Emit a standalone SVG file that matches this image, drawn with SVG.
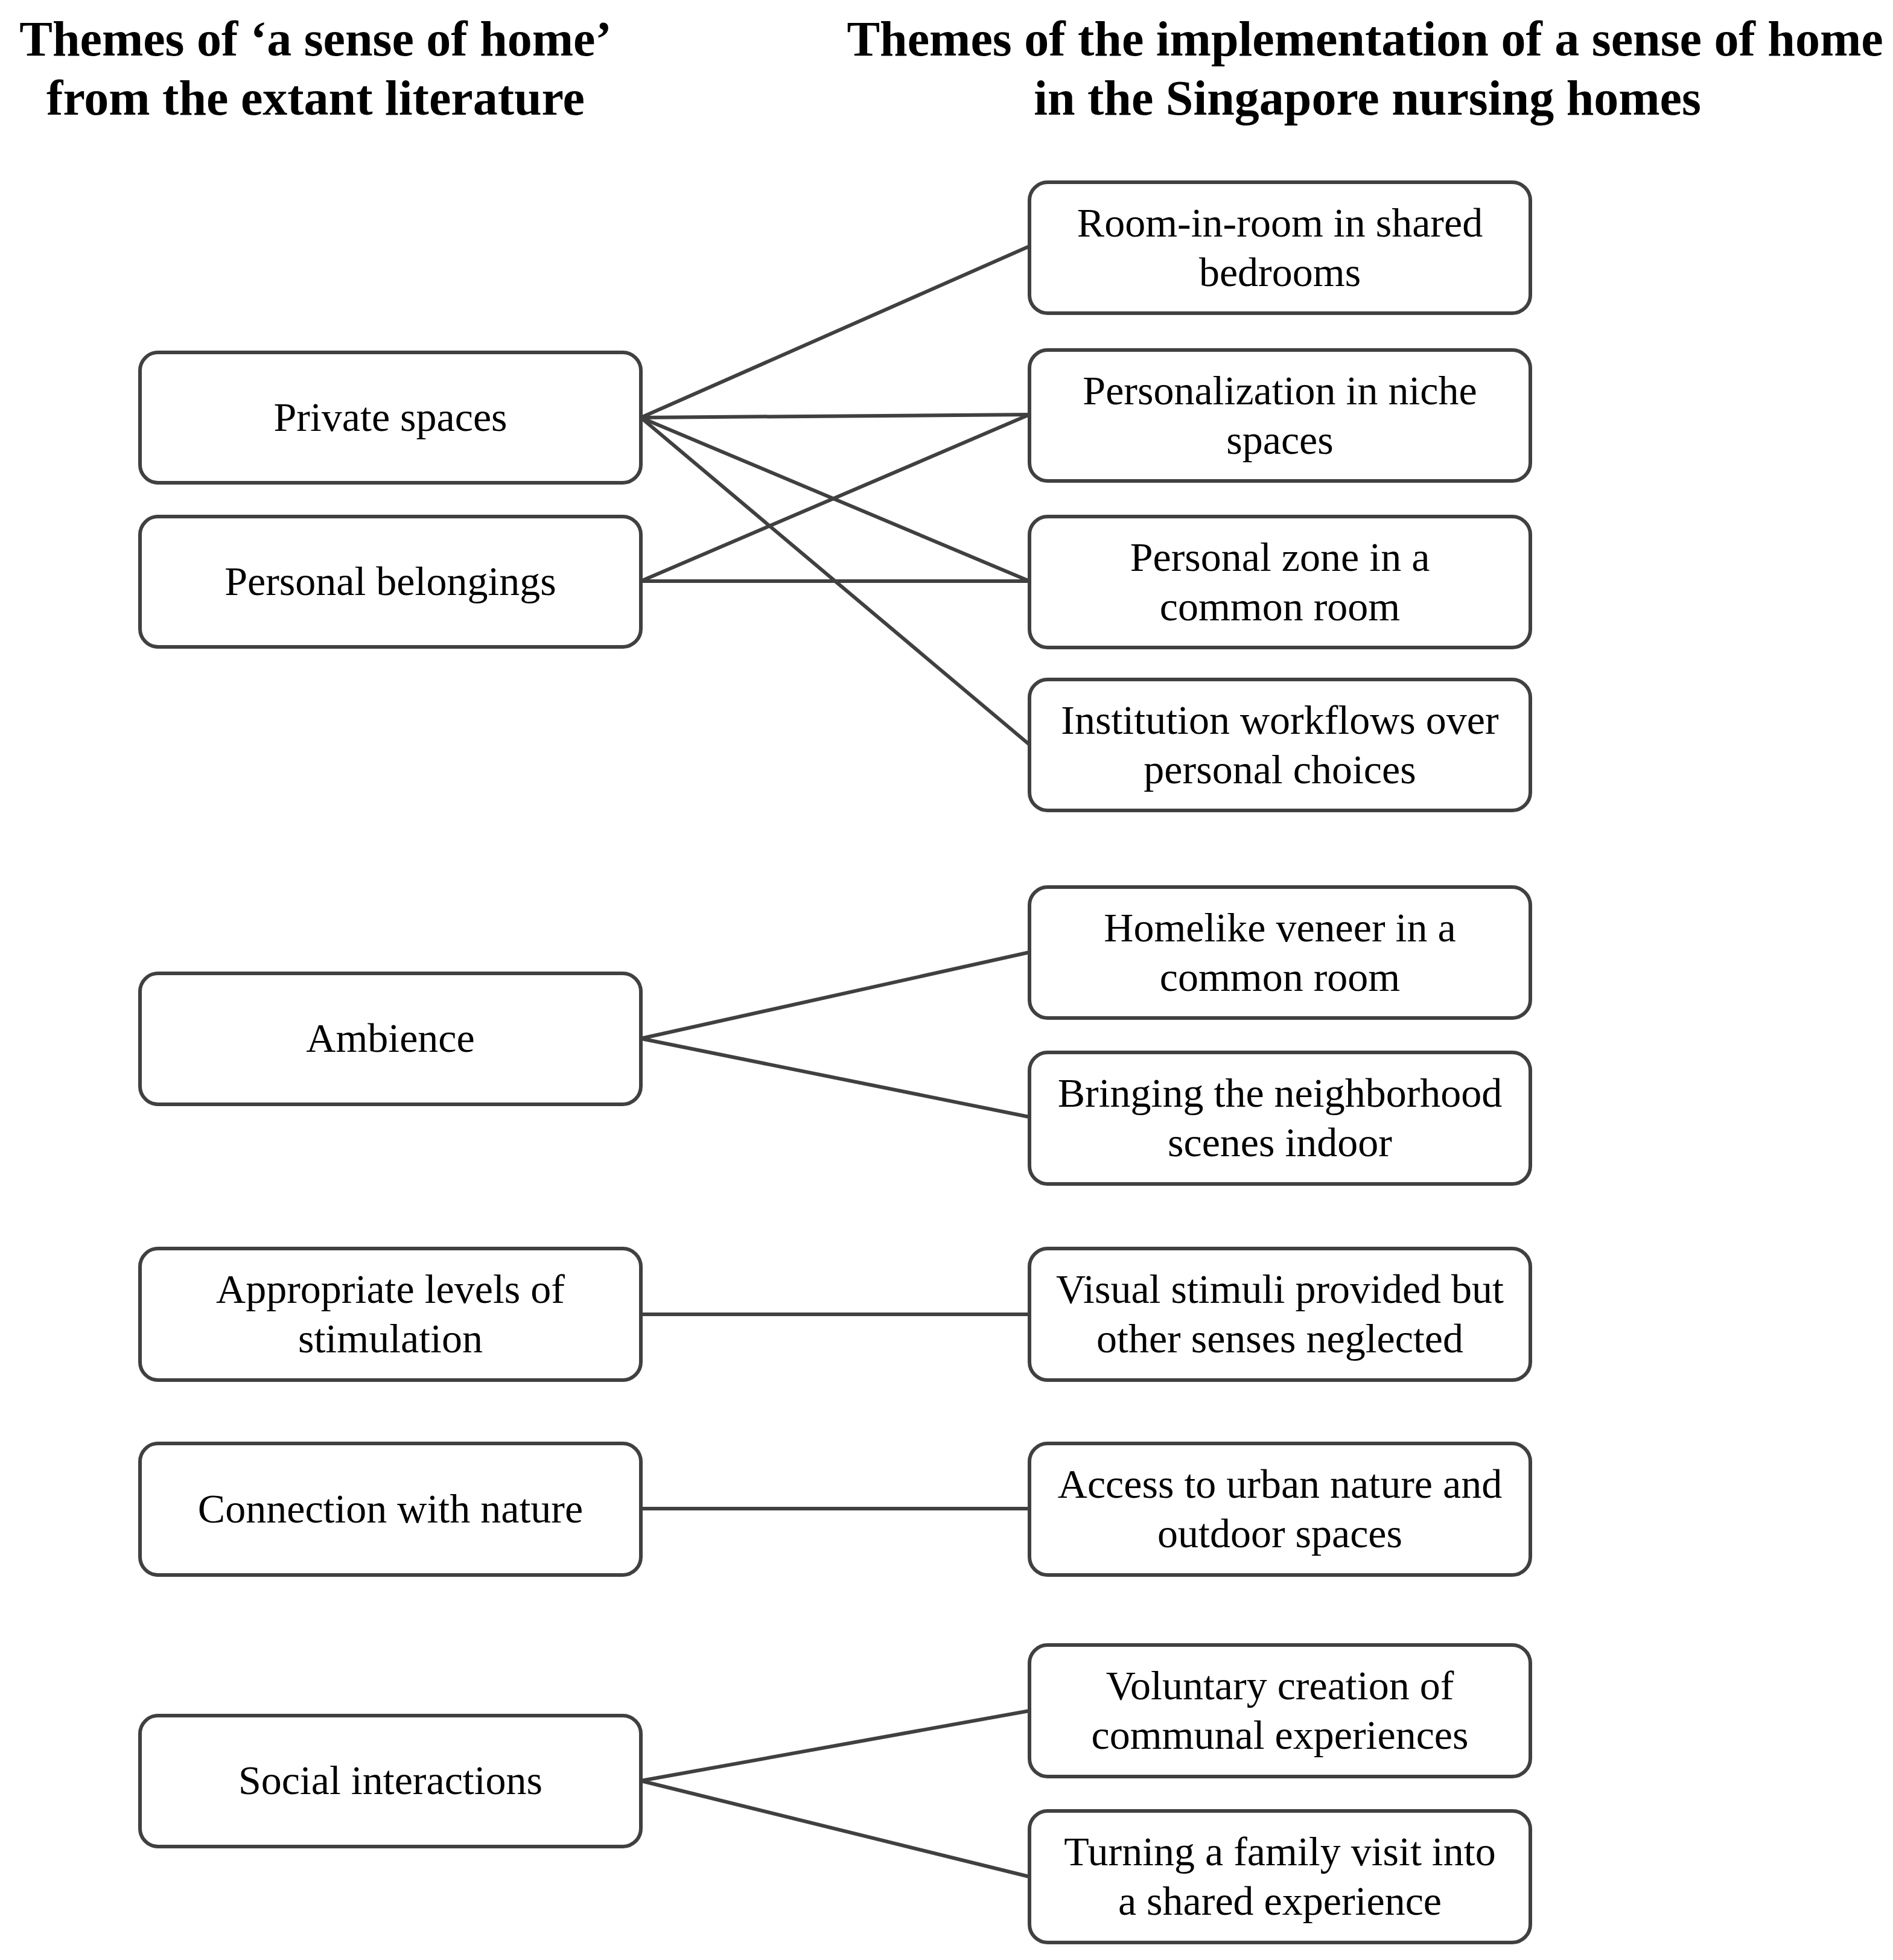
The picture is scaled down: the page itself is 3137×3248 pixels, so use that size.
<svg xmlns="http://www.w3.org/2000/svg" width="3137" height="3248" viewBox="0 0 3137 3248">
<style>
.box{fill:#ffffff;stroke:#404040;stroke-width:6}
.t{font-family:"Liberation Serif","Times New Roman",serif;font-size:68px;fill:#000;text-anchor:middle}
.h{font-family:"Liberation Serif","Times New Roman",serif;font-size:82px;font-weight:bold;fill:#000;text-anchor:middle}
.c{stroke:#404040;stroke-width:6;fill:none}
</style>
<rect width="3137" height="3248" fill="#ffffff"/>
<g id="titles">
<text class="h" x="523" y="92">Themes of ‘a sense of home’</text>
<text class="h" x="523" y="190">from the extant literature</text>
<text class="h" x="2262" y="92">Themes of the implementation of a sense of home</text>
<text class="h" x="2266" y="190">in the Singapore nursing homes</text>
</g>
<g id="connectors">
<line class="c" x1="1062" y1="692" x2="1706" y2="408"/>
<line class="c" x1="1062" y1="692" x2="1706" y2="687"/>
<line class="c" x1="1062" y1="692" x2="1706" y2="963"/>
<line class="c" x1="1062" y1="692" x2="1706" y2="1234"/>
<line class="c" x1="1062" y1="963" x2="1706" y2="687"/>
<line class="c" x1="1062" y1="963" x2="1706" y2="963"/>
<line class="c" x1="1062" y1="1721" x2="1706" y2="1578"/>
<line class="c" x1="1062" y1="1721" x2="1706" y2="1851"/>
<line class="c" x1="1062" y1="2178" x2="1706" y2="2178"/>
<line class="c" x1="1062" y1="2500" x2="1706" y2="2500"/>
<line class="c" x1="1062" y1="2951" x2="1706" y2="2835"/>
<line class="c" x1="1062" y1="2951" x2="1706" y2="3110"/>
</g>
<g id="private-spaces"><rect class="box" x="232" y="584" width="830" height="216" rx="30"/><text class="t" x="647" y="714">Private spaces</text></g>
<g id="personal-belongings"><rect class="box" x="232" y="856" width="830" height="216" rx="30"/><text class="t" x="647" y="986">Personal belongings</text></g>
<g id="ambience"><rect class="box" x="232" y="1613" width="830" height="217" rx="30"/><text class="t" x="647" y="1743">Ambience</text></g>
<g id="stimulation"><rect class="box" x="232" y="2069" width="830" height="218" rx="30"/><text class="t" x="647" y="2159">Appropriate levels of</text><text class="t" x="647" y="2241">stimulation</text></g>
<g id="nature"><rect class="box" x="232" y="2392" width="830" height="218" rx="30"/><text class="t" x="647" y="2523">Connection with nature</text></g>
<g id="social"><rect class="box" x="232" y="2843" width="830" height="217" rx="30"/><text class="t" x="647" y="2973">Social interactions</text></g>
<g id="room-in-room"><rect class="box" x="1706" y="302" width="830" height="217" rx="30"/><text class="t" x="2121" y="392">Room-in-room in shared</text><text class="t" x="2121" y="474">bedrooms</text></g>
<g id="personalization"><rect class="box" x="1706" y="580" width="830" height="217" rx="30"/><text class="t" x="2121" y="670">Personalization in niche</text><text class="t" x="2121" y="752">spaces</text></g>
<g id="personal-zone"><rect class="box" x="1706" y="856" width="830" height="217" rx="30"/><text class="t" x="2121" y="946">Personal zone in a</text><text class="t" x="2121" y="1028">common room</text></g>
<g id="institution"><rect class="box" x="1706" y="1126" width="830" height="217" rx="30"/><text class="t" x="2121" y="1216">Institution workflows over</text><text class="t" x="2121" y="1298">personal choices</text></g>
<g id="homelike"><rect class="box" x="1706" y="1470" width="830" height="217" rx="30"/><text class="t" x="2121" y="1560">Homelike veneer in a</text><text class="t" x="2121" y="1642">common room</text></g>
<g id="neighborhood"><rect class="box" x="1706" y="1744" width="830" height="218" rx="30"/><text class="t" x="2121" y="1834">Bringing the neighborhood</text><text class="t" x="2121" y="1916">scenes indoor</text></g>
<g id="visual"><rect class="box" x="1706" y="2069" width="830" height="218" rx="30"/><text class="t" x="2121" y="2159">Visual stimuli provided but</text><text class="t" x="2121" y="2241">other senses neglected</text></g>
<g id="urban-nature"><rect class="box" x="1706" y="2392" width="830" height="218" rx="30"/><text class="t" x="2121" y="2482">Access to urban nature and</text><text class="t" x="2121" y="2564">outdoor spaces</text></g>
<g id="voluntary"><rect class="box" x="1706" y="2726" width="830" height="218" rx="30"/><text class="t" x="2121" y="2816">Voluntary creation of</text><text class="t" x="2121" y="2898">communal experiences</text></g>
<g id="family-visit"><rect class="box" x="1706" y="3001" width="830" height="218" rx="30"/><text class="t" x="2121" y="3091">Turning a family visit into</text><text class="t" x="2121" y="3173">a shared experience</text></g>
</svg>
